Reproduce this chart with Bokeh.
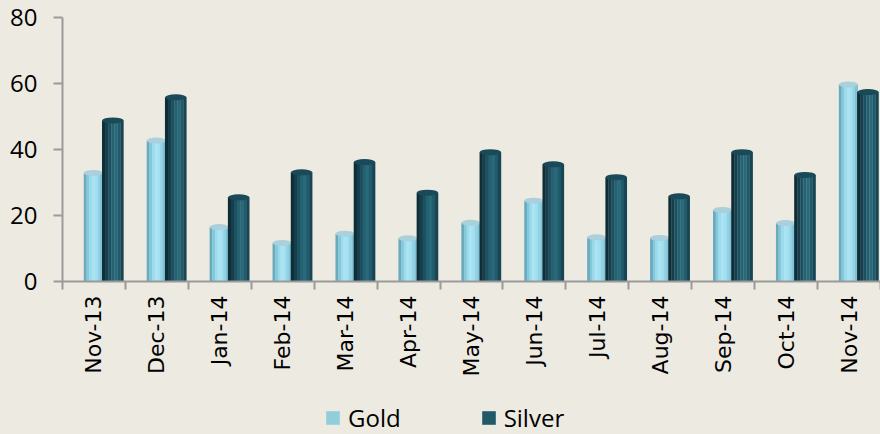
import math
import numpy as np
from bokeh.plotting import figure
from bokeh.layouts import column
from bokeh.models import FixedTicker, Legend, LegendItem
from bokeh.embed import file_html
from bokeh.resources import INLINE

months = ["Nov-13", "Dec-13", "Jan-14", "Feb-14", "Mar-14", "Apr-14", "May-14",
          "Jun-14", "Jul-14", "Aug-14", "Sep-14", "Oct-14", "Nov-14"]
gold = [32.9, 42.7, 16.5, 11.7, 14.5, 13.1, 17.8, 24.5, 13.4, 13.2, 21.7, 17.7, 59.7]
silver = [48.8, 55.8, 25.5, 33.1, 36.2, 26.9, 39.2, 35.5, 31.6, 25.8, 39.2, 32.3, 57.4]
y_ticks = [0, 20, 40, 60, 80]
series = ["Gold", "Silver"]

BG = "#EDEAE1"
AXIS = "#9A9A9A"

p = figure(width=880, height=400, output_backend="svg", toolbar_location=None,
           x_range=(-0.5, 12.5), y_range=(0, 80),
           min_border_left=62, min_border_right=0, min_border_top=17, min_border_bottom=119,
           background_fill_color=None, border_fill_color=BG, outline_line_color=None)
p.xgrid.visible = False
p.ygrid.visible = False

shift = 0.15
idx = np.arange(len(months))


def cylinder(vals, center, width, colors, cap_color):
    n = len(colors)
    sw = width / n
    base = idx + shift + center
    for k, c in enumerate(colors):
        xs = base - width / 2 + sw * (k + 0.5)
        p.vbar(x=xs, top=vals, bottom=0, width=sw * 1.08, fill_color=c, line_color=None)
    p.ellipse(x=base, y=vals, width=width, height=6, height_units="screen",
              fill_color=cap_color, line_color=None)


gold_cols = ["#6aaabd", "#84c8db", "#9cdbed", "#a9e4f4", "#a2dff0", "#92d2e5", "#80c1d5"]
silver_cols = ["#0f2d36", "#163f4b", "#1d5162", "#246171", "#28697a", "#215a6b", "#174554"]
cylinder(gold, -0.16, 0.30, gold_cols, "#a9d0db")
cylinder(silver, 0.15, 0.34, silver_cols, "#1a4a58")

# axes
xa = p.xaxis[0]
xa.ticker = FixedTicker(ticks=list(range(len(months))),
                        minor_ticks=[i - 0.5 for i in range(len(months) + 1)])
xa.major_label_overrides = {i: m for i, m in enumerate(months)}
xa.major_tick_line_color = None
xa.major_tick_out = 8
xa.major_tick_in = 0
xa.minor_tick_out = 8
xa.minor_tick_in = 0
xa.minor_tick_line_color = AXIS
xa.minor_tick_line_width = 2
xa.axis_line_color = AXIS
xa.axis_line_width = 2
xa.major_label_orientation = math.pi / 2
xa.major_label_text_font = "DejaVu Sans"
xa.major_label_text_font_size = "22px"
xa.major_label_text_color = "#000000"
xa.major_label_standoff = 6

ya = p.yaxis[0]
ya.ticker = FixedTicker(ticks=y_ticks)
ya.major_tick_out = 9
ya.major_tick_in = 0
ya.major_tick_line_color = AXIS
ya.major_tick_line_width = 2
ya.minor_tick_line_color = None
ya.axis_line_color = AXIS
ya.axis_line_width = 2
ya.major_label_text_font = "Open Sans"
ya.major_label_text_font_size = "24px"
ya.major_label_text_color = "#000000"
ya.major_label_standoff = 16

# legend strip below the chart
q = figure(width=880, height=34, output_backend="svg", toolbar_location=None,
           x_axis_type=None, y_axis_type=None, x_range=(0, 1), y_range=(0, 1),
           min_border_left=62, min_border_right=0, min_border_top=0, min_border_bottom=0,
           background_fill_color=None, border_fill_color=BG, outline_line_color=None)
q.xgrid.visible = False
q.ygrid.visible = False
lg = q.vbar(x=[0], top=[0], bottom=[0], width=0, fill_color="#92CDDC", line_color=None)
ls = q.vbar(x=[0], top=[0], bottom=[0], width=0, fill_color="#215968", line_color=None)
legend = Legend(items=[LegendItem(label=series[0], renderers=[lg]),
                       LegendItem(label=series[1], renderers=[ls])],
                orientation="horizontal", location=(262, 0),
                background_fill_alpha=0, border_line_color=None,
                glyph_width=17, glyph_height=17, label_standoff=7, spacing=79,
                padding=0, margin=0,
                label_text_font="Open Sans", label_text_font_size="24px",
                label_text_color="#000000")
q.add_layout(legend, "center")

layout = column(p, q, spacing=0, styles={"background-color": BG})
open("out.html", "w").write(file_html(layout, INLINE))
